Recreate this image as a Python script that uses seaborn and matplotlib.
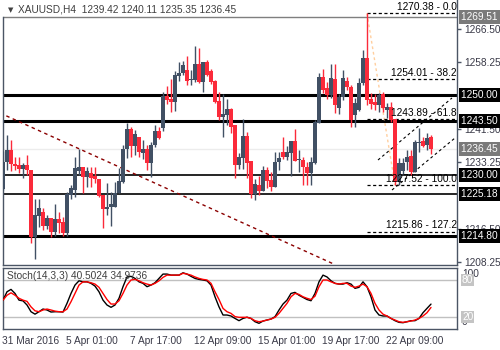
import numpy as np
import pandas as pd
import matplotlib
matplotlib.use("Agg")
import matplotlib.pyplot as plt
import matplotlib.transforms as mtransforms
import seaborn as sns

sns.set_theme(style="white")
plt.rcParams['font.family'] = ['Liberation Sans', 'DejaVu Sans']

# ---------------- data ----------------
opens = [1226.5, 1233.3, 1236.25, 1232.8, 1232.5, 1231.4, 1232.5, 1231.25, 1214.6, 1219.75,
         1220.75, 1217.3, 1219.2, 1215.8, 1219.0, 1218.3, 1215.4, 1225.0, 1226.25, 1231.1,
         1232.1, 1229.6, 1230.4, 1229.75, 1228.9, 1225.0, 1221.5, 1222.0, 1222.1, 1225.6,
         1228.3, 1236.5, 1241.5, 1237.25, 1239.6, 1235.6, 1236.4, 1233.1, 1237.5, 1241.1,
         1241.7, 1249.75, 1249.1, 1248.3, 1254.8, 1255.4, 1256.25, 1253.75, 1253.75, 1257.75,
         1253.3, 1258.2, 1256.0, 1253.5, 1248.5, 1244.6, 1245.0, 1246.5, 1242.5, 1232.5,
         1234.2, 1239.75, 1233.5, 1225.25, 1227.5, 1226.1, 1231.25, 1228.75, 1227.1, 1233.25,
         1235.8, 1234.6, 1235.6, 1238.6, 1233.75, 1233.75, 1232.1, 1230.4, 1232.9, 1242.9,
         1254.6, 1251.7, 1250.0, 1254.0, 1246.7, 1249.6, 1253.5, 1252.1, 1245.0, 1246.25,
         1252.9, 1259.2, 1248.9, 1248.2, 1247.5, 1250.2, 1246.25, 1247.1, 1244.0, 1228.2,
         1231.0, 1233.3, 1234.75, 1230.8, 1237.9, 1238.5, 1237.5, 1239.42]
highs = [1236.0, 1240.0, 1238.75, 1234.6, 1234.5, 1233.0, 1235.0, 1231.25, 1224.0, 1224.0,
         1221.75, 1220.0, 1219.2, 1222.75, 1220.7, 1219.5, 1225.8, 1227.5, 1234.6, 1236.4,
         1232.1, 1232.0, 1232.1, 1231.9, 1228.9, 1225.0, 1228.0, 1225.8, 1228.3, 1231.7,
         1237.5, 1243.1, 1242.1, 1241.25, 1239.6, 1238.75, 1237.5, 1238.3, 1242.5, 1242.1,
         1250.8, 1252.25, 1253.9, 1256.1, 1258.3, 1258.6, 1259.75, 1256.25, 1262.25, 1261.75,
         1258.2, 1258.75, 1256.4, 1253.75, 1250.8, 1250.25, 1248.9, 1246.8, 1242.5, 1235.4,
         1243.9, 1240.8, 1233.5, 1228.9, 1229.75, 1232.25, 1232.1, 1230.8, 1235.8, 1235.8,
         1239.6, 1237.25, 1238.6, 1241.4, 1236.25, 1234.6, 1233.3, 1234.6, 1243.75, 1255.4,
         1256.4, 1253.3, 1257.75, 1257.75, 1250.25, 1256.25, 1254.6, 1252.5, 1249.2, 1254.2,
         1261.25, 1270.38, 1250.4, 1250.25, 1250.4, 1250.7, 1247.9, 1248.2, 1244.0, 1234.2,
         1234.2, 1236.25, 1236.25, 1238.75, 1241.8, 1239.6, 1240.4, 1240.11]
lows = [1226.25, 1231.25, 1231.0, 1231.25, 1230.5, 1229.25, 1230.0, 1213.0, 1209.0, 1217.0,
        1216.25, 1216.5, 1214.6, 1214.8, 1215.4, 1214.8, 1214.8, 1224.0, 1224.4, 1230.0,
        1225.6, 1227.0, 1227.0, 1228.0, 1224.4, 1216.8, 1220.0, 1217.3, 1222.0, 1225.6,
        1228.0, 1234.2, 1234.6, 1235.0, 1234.6, 1234.0, 1231.25, 1229.4, 1237.0, 1239.0,
        1241.1, 1247.7, 1245.8, 1246.1, 1253.6, 1255.0, 1252.5, 1252.5, 1253.3, 1252.9,
        1250.8, 1254.75, 1252.75, 1248.1, 1243.75, 1239.6, 1242.5, 1240.4, 1229.2, 1231.5,
        1231.4, 1229.2, 1224.2, 1223.75, 1225.0, 1226.0, 1226.7, 1226.1, 1227.1, 1231.25,
        1234.0, 1233.75, 1229.75, 1233.6, 1230.8, 1227.5, 1227.5, 1227.5, 1232.75, 1242.9,
        1250.4, 1249.0, 1249.2, 1245.4, 1245.2, 1248.75, 1251.25, 1242.1, 1242.1, 1246.0,
        1252.5, 1247.5, 1246.5, 1246.25, 1245.8, 1245.8, 1244.2, 1243.3, 1227.52, 1227.6,
        1230.0, 1231.25, 1230.0, 1230.8, 1235.8, 1237.0, 1236.25, 1235.35]
closes = [1233.25, 1236.25, 1232.7, 1232.25, 1231.4, 1232.5, 1231.25, 1214.6, 1220.0, 1221.7,
          1217.3, 1219.2, 1215.8, 1219.0, 1217.9, 1215.4, 1225.25, 1226.7, 1231.7, 1232.1,
          1229.6, 1231.0, 1229.2, 1228.9, 1224.8, 1221.5, 1222.1, 1222.7, 1225.4, 1228.5,
          1236.5, 1241.5, 1237.25, 1240.25, 1235.8, 1236.4, 1233.1, 1237.5, 1241.1, 1239.2,
          1249.75, 1248.75, 1248.3, 1255.0, 1255.6, 1257.5, 1253.6, 1254.1, 1257.75, 1253.3,
          1258.2, 1255.0, 1253.3, 1248.3, 1244.6, 1245.2, 1246.5, 1242.1, 1232.5, 1234.6,
          1239.75, 1233.0, 1225.25, 1227.75, 1226.1, 1231.25, 1228.6, 1227.1, 1233.3, 1234.2,
          1234.4, 1235.8, 1238.6, 1233.6, 1234.0, 1232.1, 1230.6, 1233.3, 1243.3, 1254.6,
          1251.25, 1250.0, 1254.3, 1247.5, 1249.6, 1254.3, 1252.1, 1243.75, 1247.9, 1252.9,
          1259.2, 1248.75, 1247.7, 1247.5, 1250.0, 1246.7, 1247.1, 1243.75, 1228.2, 1232.9,
          1233.1, 1234.6, 1230.8, 1238.2, 1238.3, 1237.3, 1239.3, 1236.45]

stoch_k = [47, 60.7, 64.6, 58, 47, 45.8, 39, 28, 24, 28, 32.4, 30.8, 27.5, 28, 28, 27.5,
           41.7, 58, 71.7, 78.7, 77, 77, 74.5, 70, 60.7, 47, 39, 35.2, 39, 50, 69, 85, 86,
           82.6, 77, 74.5, 69, 71.7, 75.5, 82.6, 89.7, 89.7, 88, 88, 88, 91.8, 89.7, 86,
           82.6, 81, 80, 78.7, 71.7, 52.5, 36, 22.6, 22.6, 21, 17, 13.3, 17, 19, 17, 11.6,
           9, 12.7, 14.4, 16, 19.8, 30.8, 40.6, 47, 58, 59.7, 55, 51.5, 48, 46, 58, 77, 88,
           85, 78.7, 74.5, 73.3, 73.3, 75.5, 73.3, 66.3, 68, 77, 69, 52.5, 30.8, 22.6, 21,
           21, 17, 13.3, 10.6, 10, 11.6, 13.3, 13.3, 17, 26.4, 33.5, 40.5024]
stoch_d = [47, 55, 59, 55, 50, 47, 45, 36, 29.5, 28, 30.8, 32.4, 30.8, 29, 28, 28, 32.4,
           44.4, 58, 71.7, 77, 77, 75.5, 73.3, 68, 58, 48, 40.6, 40.6, 46, 58, 71.7, 80, 81,
           78.7, 75.5, 73.3, 71.7, 74.5, 78.7, 84.3, 88, 88, 88, 88, 91, 89.7, 88, 85, 82.6,
           81, 80, 74.5, 60.7, 48, 33.5, 28, 25.3, 20, 18.8, 18.8, 18.8, 17, 13.3, 11.6, 12.7,
           14.4, 16, 18.8, 25.3, 33.5, 41.7, 52.5, 58, 56.4, 52.5, 50, 48, 53.5, 69, 80, 80,
           77, 74.5, 73.3, 74.5, 74.5, 70, 68, 70, 73.3, 69, 58, 41.7, 30.8, 24, 21, 17, 14.4,
           11.6, 10.6, 11.6, 12.7, 14.4, 17, 21, 26.4, 34.9736]

x_tick_pos = [0, 16, 32, 48, 64, 80, 96]
x_tick_labels = ["31 Mar 2016", "5 Apr 01:00", "7 Apr 17:00", "12 Apr 09:00",
                 "15 Apr 01:00", "19 Apr 17:00", "22 Apr 09:00"]
price_ticks = [1266.50, 1258.25, 1241.50, 1233.25, 1216.50, 1208.25]
sr_levels = [1250.00, 1243.50, 1230.00, 1225.18, 1214.80]
sr_widths = [2.2, 2.2, 1.2, 1.2, 2.2]
fib_levels = [1270.38, 1254.01, 1243.89, 1227.52, 1215.86]
fib_ratios = ["0.0", "38.2", "61.8", "100.0", "127.2"]
top_line = 1269.51
bid = 1236.45
trend_x = [-0.75, 83.0]
trend_y = [1245.5, 1207.6]
fib_diag_x = [91, 98]
fib_diag_y = [1270.38, 1227.52]
chan_up_x = [93.75, 112.25]
chan_up_y = [1233.75, 1249.25]
chan_lo_x = [97.25, 113.0]
chan_lo_y = [1226.25, 1239.25]

n = len(opens)
df = pd.DataFrame({"bar": np.arange(n), "open": opens, "high": highs,
                   "low": lows, "close": closes, "k": stoch_k, "d": stoch_d})

BULL = "#415064"
BEAR = "#fb2a3a"
AX = "#4b5565"
FS = 7.3

W, H = 500, 350
fig = plt.figure(figsize=(W / 100, H / 100), dpi=100)
fig.patch.set_facecolor("white")

def px2fig(x0, y0, x1, y1):
    return [x0 / W, 1 - y1 / H, (x1 - x0) / W, (y1 - y0) / H]

ax = fig.add_axes(px2fig(2.5, 0, 457, 265))
ax2 = fig.add_axes(px2fig(2.5, 267.8, 457, 328.8))

xlim = (-0.125, 113.5)
ylim = (1207.5, 1273.75)

# ---------------- main panel ----------------
ax.set_xlim(*xlim)
ax.set_ylim(*ylim)
ax.set_facecolor("white")

ax.axhline(bid, color="#ececec", lw=1, zorder=0.5)

up = df[df.close >= df.open]
dn = df[df.close < df.open]
for sub, col in ((up, BULL), (dn, BEAR)):
    ax.vlines(sub.bar, sub.low, sub.high, color=col, lw=1, zorder=3)
    h = np.maximum((sub.close - sub.open).abs(), 0.3)
    ax.bar(sub.bar, h, bottom=np.minimum(sub.open, sub.close), width=0.78,
           color=col, linewidth=0, zorder=3.1)

for lv, lw in zip(sr_levels, sr_widths):
    ax.axhline(lv, color="black", lw=lw, zorder=2)

ax.plot(trend_x, trend_y, color="#8b0000", lw=1, ls=(0, (2.5, 2.5)), zorder=2.5)
ax.plot(fib_diag_x, fib_diag_y, color="#ffcf9f", lw=1, ls=(0, (2, 2)), zorder=2.4)
ax.plot(chan_up_x, chan_up_y, color="black", lw=0.8, ls=(0, (2.5, 2.5)), zorder=2.5)
ax.plot(chan_lo_x, chan_lo_y, color="black", lw=0.8, ls=(0, (2.5, 2.5)), zorder=2.5)

for lv, r in zip(fib_levels, fib_ratios):
    ax.hlines(lv, fib_diag_x[0], xlim[1], color="black", lw=0.9, ls=(0, (2.5, 2)), zorder=2.6)
    ax.text(xlim[1] - 0.1, lv + 0.35, f"{lv:.2f} - {r}", ha="right", va="bottom",
            fontsize=FS, color="black", zorder=4, clip_on=True)

ax.axhline(top_line, color="#7f7f7f", lw=1, zorder=2)

for s in ("top", "bottom"):
    ax.spines[s].set_visible(s == "bottom")
ax.spines["left"].set_bounds(ylim[0], top_line)
for s in ("left", "right", "bottom"):
    ax.spines[s].set_color(AX)
    ax.spines[s].set_linewidth(1)
ax.set_xticks([])
ax.yaxis.tick_right()
ax.set_yticks(price_ticks)
ax.set_yticklabels([f"{v:.2f}" for v in price_ticks])
ax.tick_params(axis="y", which="both", right=True, left=False, length=3, width=1,
               color=AX, labelsize=FS, labelcolor="#3a3a48", pad=2, direction="out")

trans = mtransforms.blended_transform_factory(ax.transAxes, ax.transData)
for lv in sr_levels:
    ax.text(1.0 + 4 / 454.5, lv, f"{lv:.2f}   ", ha="left", va="center", fontsize=FS,
            color="white", transform=trans, clip_on=False, zorder=6,
            bbox=dict(boxstyle="square,pad=0.18", fc="black", ec="none"))
for lv in (top_line, bid):
    ax.text(1.0 + 4 / 454.5, lv, f"{lv:.2f}   ", ha="left", va="center", fontsize=FS,
            color="white", transform=trans, clip_on=False, zorder=6,
            bbox=dict(boxstyle="square,pad=0.18", fc="#7a7a7a", ec="none"))

fig.text(8 / W, 1 - 10 / H, "\u25BC", fontsize=5, color="#404040", va="center", ha="left",
         family="DejaVu Sans")
fig.text(18 / W, 1 - 10 / H, "XAUUSD,H4  1239.42 1240.11 1235.35 1236.45",
         fontsize=FS, color="#404040", va="center", ha="left")

# ---------------- stochastic panel ----------------
ax2.set_xlim(*xlim)
ax2.set_ylim(0, 100)
ax2.axhline(80, color="#c0c0c0", lw=1, zorder=1)
ax2.axhline(20, color="#c0c0c0", lw=1, zorder=1)
sns.lineplot(data=df, x="bar", y="k", ax=ax2, color="black", lw=1, zorder=3)
sns.lineplot(data=df, x="bar", y="d", ax=ax2, color="#ff0000", lw=1, zorder=3)
ax2.set_xlabel("")
ax2.set_ylabel("")
for s in ax2.spines.values():
    s.set_color(AX)
    s.set_linewidth(1)
ax2.set_yticks([])
ax2.set_xticks(x_tick_pos)
ax2.set_xticklabels(x_tick_labels, ha="left")
ax2.tick_params(axis="x", length=3, width=1, color=AX, labelsize=FS,
                labelcolor="#3a3a48", pad=2, direction="out")
for lab in ax2.get_xticklabels():
    lab.set_transform(lab.get_transform() + mtransforms.ScaledTranslation(-1 / 100, 0, fig.dpi_scale_trans))

t2 = mtransforms.blended_transform_factory(ax2.transAxes, ax2.transData)
ax2.text(1.0 + 5 / 454.5, 90, "100", ha="left", va="center", fontsize=FS,
         color="#3a3a48", transform=t2, clip_on=False)
ax2.text(1.0 + 5 / 454.5, 11, "0", ha="left", va="center", fontsize=FS,
         color="#3a3a48", transform=t2, clip_on=False)
for lv in (80, 20):
    ax2.text(1.0 + 5 / 454.5, lv, f"{lv}", ha="left", va="center", fontsize=FS,
             color="white", transform=t2, clip_on=False, zorder=5,
             bbox=dict(boxstyle="square,pad=0.1", fc="#c4c4c4", ec="none"))
ax2.text(1, 87, "Stoch(14,3,3) 40.5024 34.9736", fontsize=FS, color="#404040",
         ha="left", va="center", zorder=5)

fig.savefig("out.png", dpi=100, facecolor="white")
